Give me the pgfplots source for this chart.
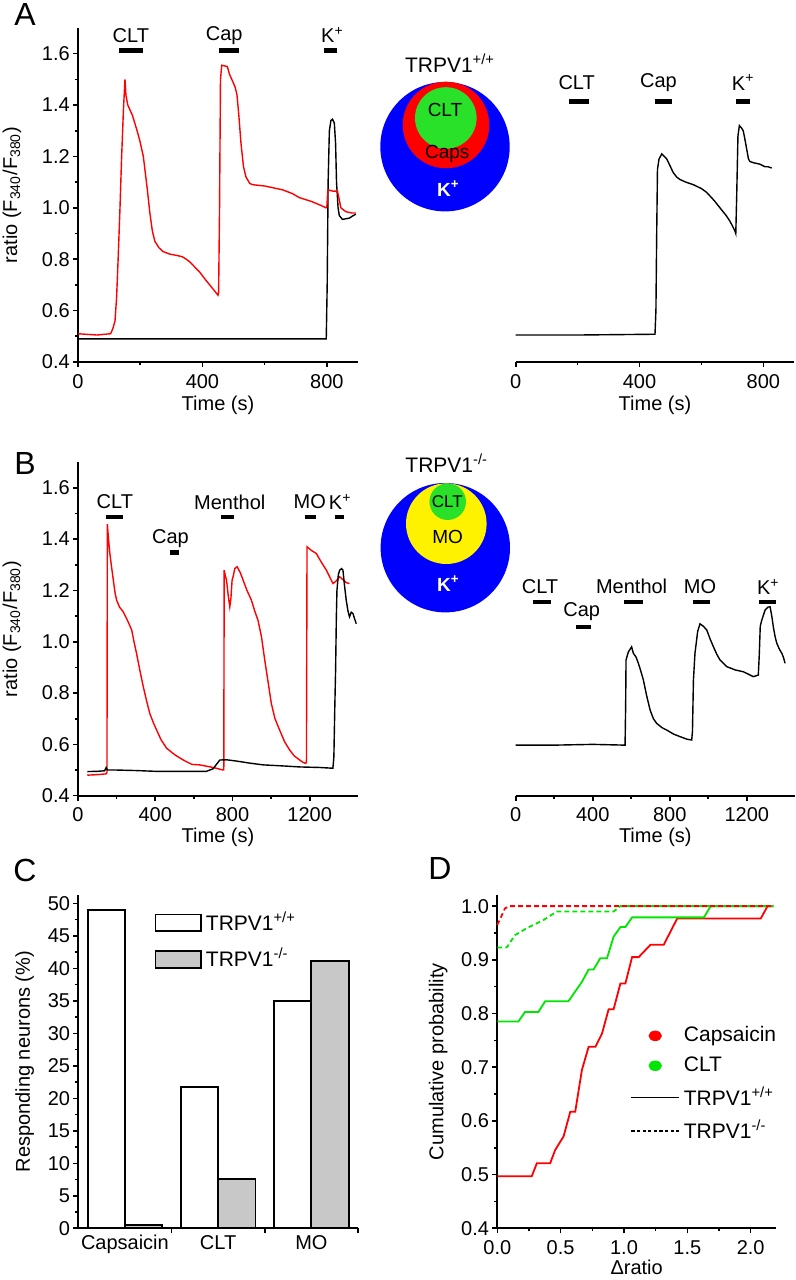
\documentclass[border=0pt]{standalone}
\usepackage{pgfplots}
\pgfplotsset{compat=1.18}
\usepackage{fontspec}
\setmainfont{Liberation Sans}

\definecolor{trgreen}{RGB}{0,230,0}
\definecolor{vgreen}{RGB}{40,225,40}
\definecolor{barfill}{RGB}{200,200,200}

\newcommand{\fs}{\fontsize{10}{12}\selectfont}

\pgfplotsset{
  panel/.style={
    scale only axis,
    clip=false,
    axis line style={-, line width=0.9pt},
    tick align=outside,
    major tick length=2.6pt,
    minor tick length=1.6pt,
    every tick/.style={black, line width=0.8pt},
    font=\fs,
    /pgf/number format/assume math mode=true,
    /pgf/number format/1000 sep={},
    yticklabel style={xshift=2pt},
    axis x line*=bottom,
    axis y line*=left,
  },
  ratioy/.style={
    ymin=0.4, ymax=1.7,
    ytick={0.4,0.6,0.8,1.0,1.2,1.4,1.6},
    minor y tick num=1,
    yticklabel style={/pgf/number format/.cd, fixed, fixed zerofill, precision=1},
  },
  trace/.style={line width=0.7pt},
  stim/.style={black, line width=2.2pt, forget plot},
}

\begin{document}
\begin{tikzpicture}
\path[use as bounding box] (0,0) rectangle (398pt,640pt);

% ---------- A, left ----------
\begin{axis}[panel, ratioy,
  at={(39pt,459pt)}, anchor=south west, width=140pt, height=167pt,
  xmin=0, xmax=900, xtick={0,400,800}, minor x tick num=1,
  xlabel={Time (s)}, xlabel style={yshift=3pt},
  ylabel={ratio (F\textsubscript{340}/F\textsubscript{380})}, ylabel style={yshift=3.5pt},
]
\addplot[trace, black] coordinates {
  (0,0.49) (798,0.49) (801,0.7) (804,1.1) (808,1.30) (813,1.34) (818,1.345)
  (824,1.33) (828,1.25) (831,1.10) (836,1.0) (840,0.97) (850,0.955)
  (872,0.96) (885,0.97) (893,0.975)
};
\addplot[trace, red] coordinates {
  (0,0.51) (60,0.505) (105,0.51) (112,0.53) (119,0.56) (124,0.65) (129,0.80)
  (135,1.0) (140,1.19) (146,1.38) (151,1.50) (154,1.44) (160,1.40) (175,1.36)
  (190,1.30) (199,1.26) (210,1.20) (215,1.15) (223,1.07) (231,0.98) (239,0.91)
  (247,0.87) (260,0.845) (273,0.83) (295,0.82) (316,0.815) (335,0.81)
  (348,0.80) (359,0.79) (375,0.77) (391,0.75) (410,0.72) (430,0.69)
  (450,0.66) (452,0.67) (455,1.0) (458,1.50) (462,1.555) (480,1.55)
  (487,1.52) (498,1.49) (505,1.47) (511,1.44) (517,1.36) (524,1.25)
  (532,1.16) (540,1.12) (552,1.095) (562,1.09) (600,1.085) (658,1.07)
  (690,1.055) (711,1.04) (750,1.025) (780,1.01) (797,1.0) (800,1.005)
  (803,1.07) (820,1.065) (834,1.065) (840,1.03) (845,1.0) (861,0.985)
  (880,0.98) (893,0.98)
};
\addplot[stim] coordinates {(132,1.612) (209,1.612)};
\addplot[stim] coordinates {(453,1.612) (517,1.612)};
\addplot[stim] coordinates {(792,1.612) (834,1.612)};
\node at (axis cs:170,1.672) {CLT};
\node at (axis cs:470,1.672) {Cap};
\node at (axis cs:818,1.672) {K\textsuperscript{+}};
\end{axis}

% ---------- A, right ----------
\begin{axis}[panel, ratioy, axis y line=none,
  at={(257.85pt,459pt)}, anchor=south west, width=139.3pt, height=167pt,
  xmin=0, xmax=900, xtick={0,400,800}, minor x tick num=1,
  xlabel={Time (s)}, xlabel style={yshift=3pt},
]
\addplot[trace, black] coordinates {
  (0,0.505) (200,0.505) (450,0.508) (453,0.6) (455.5,0.9) (458,1.15)
  (463,1.19) (472,1.21) (480,1.20) (488,1.19) (500,1.16) (509,1.137)
  (520,1.12) (531,1.11) (550,1.10) (574,1.09) (600,1.075) (617,1.06)
  (640,1.03) (660,1.0) (680,0.97) (692,0.948) (700,0.93) (708.5,0.909)
  (711,0.90) (714,1.05) (718,1.28) (722.6,1.32) (730,1.31) (735,1.30)
  (740,1.27) (746,1.23) (752,1.19) (757,1.18) (770,1.175) (789,1.17)
  (805,1.16) (815,1.16) (827,1.155)
};
\addplot[stim] coordinates {(173,1.414) (238,1.414)};
\addplot[stim] coordinates {(450,1.414) (504,1.414)};
\addplot[stim] coordinates {(713,1.414) (757,1.414)};
\node at (axis cs:197,1.488) {CLT};
\node at (axis cs:461,1.488) {Cap};
\node at (axis cs:735,1.488) {K\textsuperscript{+}};
\end{axis}

% ---------- B, left ----------
\begin{axis}[panel, ratioy,
  at={(39pt,242.15pt)}, anchor=south west, width=140pt, height=166.8pt,
  xmin=0, xmax=1450, xtick={0,400,800,1200}, minor x tick num=1,
  xlabel={Time (s)}, xlabel style={yshift=4pt},
  ylabel={ratio (F\textsubscript{340}/F\textsubscript{380})}, ylabel style={yshift=3.5pt},
]
\addplot[trace, red] coordinates {
  (48,0.48) (100,0.482) (145,0.485) (150,0.49) (152,1.458) (158,1.40)
  (165,1.344) (174,1.29) (183,1.24) (192,1.19) (200,1.162) (215,1.135)
  (234,1.117) (255,1.085) (278,1.046) (290,1.0) (303,0.955) (320,0.89)
  (338,0.825) (355,0.77) (372,0.72) (390,0.685) (407,0.656) (430,0.618)
  (459,0.585) (500,0.56) (545,0.539) (590,0.522) (631,0.52) (700,0.51)
  (751,0.50) (755,0.5) (757,1.279) (762,1.26) (769,1.24) (778,1.18)
  (786,1.136) (792,1.17) (798,1.24) (803,1.253) (812,1.285) (824,1.292)
  (840,1.27) (855,1.24) (875,1.2) (898,1.162) (915,1.12) (932,1.084)
  (950,1.02) (967,0.929) (985,0.84) (1001,0.76) (1020,0.70) (1044,0.656)
  (1070,0.61) (1096,0.578) (1120,0.555) (1148,0.539) (1165,0.53)
  (1179,0.526) (1183,0.53) (1186,1.37) (1210,1.355) (1234,1.344)
  (1260,1.31) (1286,1.279) (1305,1.25) (1320,1.227) (1335,1.235)
  (1355,1.253) (1375,1.24) (1390,1.23) (1406,1.227)
};
\addplot[trace, black] coordinates {
  (48,0.494) (100,0.495) (138,0.497) (146,0.51) (152,0.50) (200,0.50)
  (300,0.498) (400,0.495) (500,0.495) (600,0.495) (665,0.495) (700,0.505)
  (720,0.525) (734,0.539) (769,0.54) (820,0.535) (889,0.527) (960,0.52)
  (1062,0.516) (1150,0.512) (1250,0.51) (1320,0.507) (1325,0.55)
  (1330,0.75) (1334,0.89) (1338,1.1) (1341,1.20) (1348,1.26) (1355,1.279)
  (1365,1.285) (1372,1.279) (1380,1.22) (1389,1.162) (1398,1.12)
  (1406,1.097) (1415,1.115) (1424,1.11) (1432,1.09) (1441,1.07)
};
\addplot[stim] coordinates {(145,1.487) (234,1.487)};
\addplot[stim] coordinates {(476,1.347) (522,1.347)};
\addplot[stim] coordinates {(743,1.487) (807,1.487)};
\addplot[stim] coordinates {(1174,1.487) (1234,1.487)};
\addplot[stim] coordinates {(1329,1.487) (1377,1.487)};
\node at (axis cs:191,1.545) {CLT};
\node at (axis cs:479,1.403) {Cap};
\node at (axis cs:786,1.545) {Menthol};
\node at (axis cs:1200,1.545) {MO};
\node at (axis cs:1358,1.545) {K\textsuperscript{+}};
\end{axis}

% ---------- B, right ----------
\begin{axis}[panel, ratioy, axis y line=none,
  at={(257.85pt,242.15pt)}, anchor=south west, width=139.6pt, height=166.8pt,
  xmin=0, xmax=1450, xtick={0,400,800,1200}, minor x tick num=1,
  xlabel={Time (s)}, xlabel style={yshift=4pt},
]
\addplot[trace, black] coordinates {
  (0,0.597) (200,0.597) (400,0.600) (568,0.597) (571,0.75) (573,0.929)
  (585,0.96) (602,0.98) (611,0.955) (625,0.94) (637,0.916) (650,0.885)
  (663,0.851) (680,0.79) (698,0.734) (715,0.70) (732,0.682) (760,0.665)
  (784,0.656) (820,0.64) (854,0.63) (890,0.62) (914,0.617) (918,0.65)
  (923,0.85) (931,0.955) (945,1.04) (957,1.07) (975,1.06) (992,1.046)
  (1010,1.01) (1027,0.98) (1045,0.95) (1061,0.929) (1080,0.915)
  (1096,0.903) (1140,0.89) (1182,0.883) (1210,0.873) (1234,0.864)
  (1260,0.87) (1265,0.95) (1270,1.06) (1278,1.084) (1295,1.123)
  (1310,1.135) (1321,1.136) (1330,1.10) (1338,1.058) (1347,1.02)
  (1356,0.994) (1370,0.97) (1382,0.955) (1390,0.94) (1399,0.916)
};
\addplot[stim] coordinates {(88,1.155) (182,1.155)};
\addplot[stim] coordinates {(313,1.058) (390,1.058)};
\addplot[stim] coordinates {(564,1.155) (663,1.155)};
\addplot[stim] coordinates {(919,1.155) (1009,1.155)};
\addplot[stim] coordinates {(1266,1.155) (1352,1.155)};
\node at (axis cs:126,1.214) {CLT};
\node at (axis cs:343,1.117) {Cap};
\node at (axis cs:602,1.214) {Menthol};
\node at (axis cs:957,1.214) {MO};
\node at (axis cs:1312,1.214) {K\textsuperscript{+}};
\end{axis}

% ---------- C ----------
\begin{axis}[panel,
  at={(39.15pt,25.85pt)}, anchor=south west, width=139.85pt, height=166.65pt,
  xmin=0.5, xmax=3.5, ymin=0, ymax=51.3,
  xtick={1.5,2.5,3.5}, xticklabels={},
  extra x ticks={1,2,3}, extra x tick labels={Capsaicin,CLT,MO},
  extra x tick style={major tick length=0pt},
  ytick={0,5,...,50}, minor y tick num=1,
  ylabel={Responding neurons (\%)},
  legend image code/.code={\draw[#1] (0cm,-0.15cm) rectangle (0.8cm,0.14cm);},
  legend style={at={(0.25,0.975)}, anchor=north west, draw=none, fill=none,
    font=\fontsize{10.5}{12.5}\selectfont, row sep=3.5pt},
  legend cell align=left,
]
\addplot[ybar, bar width=0.4, bar shift=-0.2, fill=white, draw=black, line width=0.9pt, forget plot]
  coordinates {(1,49) (2,21.8) (3,35)};
\addplot[ybar, bar width=0.4, bar shift=0.2, fill=barfill, draw=black, line width=0.9pt, forget plot]
  coordinates {(1,0.5) (2,7.6) (3,41.1)};
\addlegendimage{fill=white, draw=black, line width=0.9pt}
\addlegendentry{TRPV1\textsuperscript{+/+}}
\addlegendimage{fill=barfill, draw=black, line width=0.9pt}
\addlegendentry{TRPV1\textsuperscript{-/-}}
\end{axis}

% ---------- D ----------
\begin{axis}[panel,
  at={(248.65pt,25.85pt)}, anchor=south west, width=139.35pt, height=166.65pt,
  xmin=0, xmax=2.2, ymin=0.4, ymax=1.0207,
  xtick={0,0.5,1.0,1.5,2.0}, minor x tick num=1,
  ytick={0.4,0.5,0.6,0.7,0.8,0.9,1.0}, minor y tick num=1,
  xticklabel style={/pgf/number format/.cd, fixed, fixed zerofill, precision=1},
  yticklabel style={/pgf/number format/.cd, fixed, fixed zerofill, precision=1},
  xlabel={Δratio}, xlabel style={yshift=4pt},
  ylabel={Cumulative probability},
  legend image code/.code={\draw[mark repeat=2,mark phase=2,#1] plot coordinates {(0cm,0cm) (0.42cm,0cm) (0.84cm,0cm)};},
  legend style={at={(0.455,0.63)}, anchor=north west, draw=none, fill=none,
    font=\fontsize{10.5}{12}\selectfont, row sep=2pt},
  legend cell align=left,
]
\addplot[trace, line width=0.9pt, red, forget plot] coordinates {
  (0,0.497) (0.272,0.497) (0.312,0.521) (0.417,0.521) (0.457,0.546)
  (0.523,0.571) (0.576,0.617) (0.615,0.617) (0.668,0.695) (0.721,0.738)
  (0.774,0.738) (0.827,0.763) (0.879,0.808) (0.918,0.808) (0.972,0.856)
  (1.011,0.856) (1.064,0.905) (1.116,0.905) (1.209,0.928) (1.314,0.928)
  (1.420,0.977) (2.08,0.977) (2.133,1.0) (2.18,1.0)
};
\addplot[trace, line width=0.9pt, trgreen, forget plot] coordinates {
  (0,0.785) (0.166,0.785) (0.219,0.803) (0.325,0.803) (0.378,0.823)
  (0.562,0.823) (0.615,0.841) (0.668,0.859) (0.721,0.882) (0.76,0.882)
  (0.813,0.903) (0.866,0.903) (0.918,0.943) (0.972,0.961) (1.011,0.961)
  (1.064,0.979) (1.631,0.979) (1.684,1.0) (2.18,1.0)
};
\addplot[trace, line width=0.9pt, trgreen, dash pattern=on 2.4pt off 1.6pt, forget plot] coordinates {
  (0,0.923) (0.074,0.923) (0.14,0.946) (0.233,0.959) (0.364,0.974)
  (0.47,0.99) (0.918,0.99) (0.972,1.0) (2.18,1.0)
};
\addplot[trace, line width=0.9pt, red, dash pattern=on 2.4pt off 1.6pt, forget plot] coordinates {
  (0,0.965) (0.03,0.98) (0.061,0.996) (0.1,1.0) (2.18,1.0)
};
\addlegendimage{only marks, mark=*, red, mark size=2.4pt, mark options={xscale=1.3}}
\addlegendentry{Capsaicin}
\addlegendimage{only marks, mark=*, trgreen, mark size=2.4pt, mark options={xscale=1.3}}
\addlegendentry{CLT}
\addlegendimage{black, line width=0.8pt}
\addlegendentry{TRPV1\textsuperscript{+/+}}
\addlegendimage{black, line width=0.8pt, dash pattern=on 1.6pt off 1.2pt}
\addlegendentry{TRPV1\textsuperscript{-/-}}
\end{axis}

% ---------- Venn-style summaries ----------
\fill[blue] (222.5pt,566.65pt) circle (32.35pt);
\fill[red] (223pt,577.5pt) circle (21.65pt);
\fill[vgreen] (222.9pt,581pt) circle (15.4pt);
\node[font=\fontsize{9.5}{11}\selectfont] at (222.5pt,585pt) {CLT};
\node[font=\fontsize{9.5}{11}\selectfont] at (223.65pt,563pt) {Caps};
\node[font=\fontsize{9.5}{11}\selectfont\bfseries, white] at (224.15pt,545.85pt) {K\textsuperscript{+}};
\node[font=\fontsize{10.5}{12}\selectfont] at (225pt,608.35pt) {TRPV1\textsuperscript{+/+}};

\fill[blue] (222.65pt,366.15pt) circle (32.35pt);
\fill[yellow] (223.15pt,378.15pt) circle (20.15pt);
\fill[vgreen] (223.85pt,389.15pt) circle (9.15pt);
\node[font=\fontsize{8.5}{10}\selectfont] at (223.65pt,389.15pt) {CLT};
\node[font=\fontsize{9.5}{11}\selectfont] at (223.85pt,371.65pt) {MO};
\node[font=\fontsize{9.5}{11}\selectfont\bfseries, white] at (224.15pt,348.35pt) {K\textsuperscript{+}};
\node[font=\fontsize{10.5}{12}\selectfont] at (223.35pt,408.35pt) {TRPV1\textsuperscript{-/-}};

% ---------- panel letters ----------
\node[font=\fontsize{16}{18}\selectfont] at (12.5pt,632.5pt) {A};
\node[font=\fontsize{16}{18}\selectfont] at (12.5pt,408.35pt) {B};
\node[font=\fontsize{16}{18}\selectfont] at (12.5pt,205pt) {C};
\node[font=\fontsize{16}{18}\selectfont] at (220pt,205.85pt) {D};
\end{tikzpicture}
\end{document}
